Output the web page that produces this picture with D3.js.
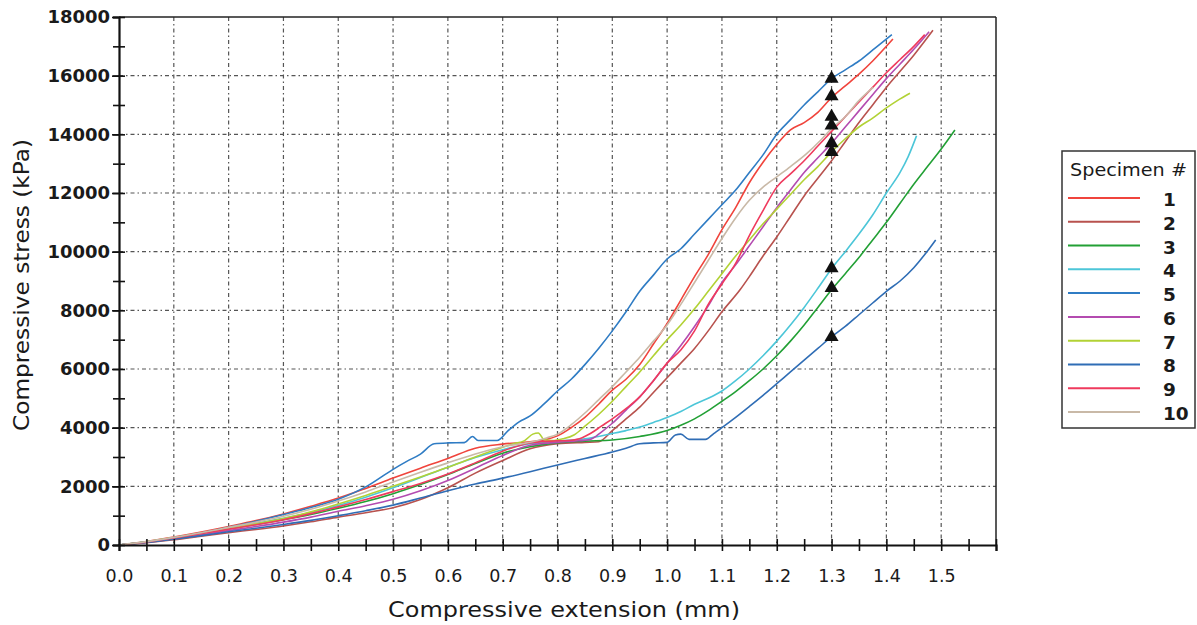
<!DOCTYPE html>
<html><head><meta charset="utf-8">
<script src="https://cdn.jsdelivr.net/npm/d3@7"></script>
<style>
html,body{margin:0;padding:0;background:#fff;}
svg{display:block;}
text{font-family:"DejaVu Sans",Verdana,sans-serif;fill:#1a1a1a;}
</style></head>
<body>
<svg id="chart" width="1197" height="625"></svg>
<script>
// ---------- data ----------
const specimenNames = ["1","2","3","4","5","6","7","8","9","10"];
const specimenColors = ["#f0443c","#b8524e","#22a035","#4cc6d8","#2f7cc4","#b44bb0","#b2d235","#2f6db5","#ef3a5d","#c9b9a7"];

const s1 = [[0,0],[0.05,120],[0.1,270],[0.15,440],[0.2,630],[0.25,830],[0.3,1060],[0.35,1320],[0.4,1600],[0.45,1930],[0.5,2280],[0.55,2620],[0.6,2950],[0.65,3300],[0.7,3440],[0.75,3520],[0.78,3600],[0.8,3720],[0.825,4000],[0.85,4350],[0.875,4800],[0.9,5280],[0.925,5650],[0.95,6150],[0.975,6850],[1.0,7550],[1.025,8350],[1.05,9150],[1.075,9900],[1.1,10750],[1.125,11500],[1.15,12350],[1.175,13050],[1.2,13650],[1.225,14150],[1.25,14400],[1.275,14750],[1.3,15250],[1.325,15650],[1.35,16050],[1.375,16500],[1.412,17250]];
const s2 = [[0,0],[0.05,80],[0.1,180],[0.15,300],[0.2,420],[0.25,530],[0.3,650],[0.35,790],[0.4,950],[0.45,1100],[0.5,1270],[0.55,1550],[0.6,1950],[0.65,2450],[0.7,2880],[0.75,3280],[0.8,3450],[0.85,3500],[0.875,3520],[0.9,3900],[0.925,4300],[0.95,4700],[0.975,5200],[1.0,5700],[1.025,6200],[1.05,6700],[1.075,7300],[1.1,7950],[1.133,8700],[1.15,9150],[1.175,9850],[1.2,10500],[1.225,11200],[1.25,11900],[1.275,12500],[1.3,13100],[1.325,13750],[1.35,14400],[1.375,15000],[1.4,15600],[1.425,16150],[1.45,16700],[1.485,17550]];
const s3 = [[0,0],[0.05,110],[0.1,240],[0.15,390],[0.2,550],[0.25,700],[0.3,860],[0.35,1040],[0.4,1250],[0.45,1480],[0.5,1750],[0.55,2060],[0.6,2400],[0.65,2780],[0.7,3130],[0.75,3350],[0.8,3480],[0.85,3540],[0.9,3580],[0.95,3700],[1.0,3900],[1.025,4080],[1.05,4300],[1.075,4580],[1.1,4900],[1.125,5230],[1.15,5600],[1.175,6000],[1.2,6450],[1.225,6950],[1.25,7500],[1.275,8100],[1.3,8700],[1.325,9250],[1.35,9800],[1.375,10400],[1.4,11000],[1.425,11650],[1.45,12300],[1.475,12900],[1.5,13500],[1.525,14150]];
const s4 = [[0,0],[0.05,110],[0.1,250],[0.15,410],[0.2,580],[0.25,740],[0.3,910],[0.35,1110],[0.4,1350],[0.45,1630],[0.5,1950],[0.55,2300],[0.6,2650],[0.65,2980],[0.7,3250],[0.75,3450],[0.8,3540],[0.85,3620],[0.9,3800],[0.925,3900],[0.95,4020],[0.975,4180],[1.0,4350],[1.025,4550],[1.05,4800],[1.075,5000],[1.1,5250],[1.125,5600],[1.15,6000],[1.175,6450],[1.2,6950],[1.225,7500],[1.25,8100],[1.275,8750],[1.3,9420],[1.325,10000],[1.35,10600],[1.375,11250],[1.4,12000],[1.425,12700],[1.44,13250],[1.455,13950]];
const s5 = [[0,0],[0.05,110],[0.1,250],[0.15,410],[0.2,600],[0.25,810],[0.3,1040],[0.35,1280],[0.4,1560],[0.45,1980],[0.5,2580],[0.525,2850],[0.55,3100],[0.575,3450],[0.6,3480],[0.63,3490],[0.645,3700],[0.655,3560],[0.69,3560],[0.71,3900],[0.73,4200],[0.75,4400],[0.775,4800],[0.8,5250],[0.825,5650],[0.85,6150],[0.875,6700],[0.9,7300],[0.925,7950],[0.95,8650],[0.975,9200],[1.0,9750],[1.025,10100],[1.05,10600],[1.075,11100],[1.1,11600],[1.125,12100],[1.15,12700],[1.175,13300],[1.2,14000],[1.225,14500],[1.25,15000],[1.275,15450],[1.3,15900],[1.325,16200],[1.35,16500],[1.38,16950],[1.41,17400]];
const s6 = [[0,0],[0.05,95],[0.1,215],[0.15,350],[0.2,490],[0.25,630],[0.3,780],[0.35,950],[0.4,1150],[0.45,1340],[0.5,1560],[0.55,1850],[0.6,2200],[0.65,2620],[0.7,3050],[0.725,3250],[0.75,3400],[0.8,3500],[0.83,3540],[0.86,3600],[0.88,3850],[0.9,4150],[0.925,4600],[0.95,5050],[0.975,5600],[1.0,6200],[1.025,6800],[1.05,7450],[1.075,8150],[1.1,8950],[1.125,9550],[1.15,10200],[1.175,10850],[1.2,11500],[1.225,12100],[1.25,12700],[1.275,13200],[1.3,13700],[1.325,14250],[1.35,14800],[1.375,15350],[1.4,15900],[1.425,16400],[1.45,16900],[1.478,17500]];
const s7 = [[0,0],[0.05,110],[0.1,250],[0.15,400],[0.2,560],[0.25,720],[0.3,900],[0.35,1130],[0.4,1400],[0.45,1690],[0.5,2000],[0.55,2320],[0.6,2650],[0.65,3000],[0.7,3330],[0.72,3450],[0.74,3560],[0.755,3780],[0.765,3820],[0.775,3600],[0.79,3560],[0.81,3620],[0.83,3750],[0.85,4050],[0.875,4450],[0.9,4900],[0.925,5400],[0.95,5900],[0.975,6450],[1.0,7000],[1.025,7500],[1.05,8050],[1.075,8650],[1.1,9250],[1.125,9850],[1.15,10400],[1.175,10950],[1.2,11450],[1.225,11950],[1.25,12450],[1.275,12900],[1.3,13400],[1.325,13850],[1.35,14250],[1.375,14550],[1.4,14900],[1.42,15150],[1.443,15400]];
const s8 = [[0,0],[0.05,90],[0.1,200],[0.15,320],[0.2,450],[0.25,570],[0.3,700],[0.35,840],[0.4,1000],[0.45,1170],[0.5,1360],[0.55,1600],[0.6,1850],[0.65,2080],[0.7,2280],[0.75,2500],[0.8,2730],[0.85,2950],[0.9,3170],[0.925,3300],[0.95,3450],[0.975,3480],[1.0,3500],[1.015,3750],[1.025,3780],[1.04,3600],[1.07,3600],[1.085,3800],[1.1,4000],[1.125,4350],[1.15,4720],[1.175,5100],[1.2,5500],[1.225,5900],[1.25,6300],[1.275,6700],[1.3,7100],[1.325,7450],[1.35,7850],[1.375,8250],[1.4,8650],[1.425,9000],[1.45,9450],[1.47,9900],[1.49,10400]];
const s9 = [[0,0],[0.05,105],[0.1,240],[0.15,390],[0.2,540],[0.25,690],[0.3,860],[0.35,1070],[0.4,1300],[0.45,1550],[0.5,1820],[0.55,2100],[0.6,2420],[0.65,2800],[0.7,3200],[0.75,3480],[0.8,3550],[0.82,3560],[0.84,3620],[0.86,3800],[0.88,4050],[0.9,4300],[0.925,4650],[0.95,5050],[0.975,5600],[1.0,6200],[1.025,6650],[1.05,7300],[1.075,8200],[1.1,8900],[1.125,9600],[1.15,10550],[1.175,11400],[1.2,12200],[1.225,12650],[1.25,13100],[1.275,13600],[1.3,14100],[1.325,14600],[1.35,15100],[1.375,15600],[1.4,16100],[1.425,16550],[1.45,17000],[1.47,17400]];
const s10 = [[0,0],[0.05,115],[0.1,260],[0.15,420],[0.2,600],[0.25,780],[0.3,980],[0.35,1220],[0.4,1500],[0.45,1810],[0.5,2150],[0.55,2480],[0.6,2800],[0.65,3100],[0.7,3350],[0.75,3500],[0.78,3650],[0.8,3780],[0.825,4100],[0.85,4500],[0.875,4950],[0.9,5400],[0.925,5900],[0.95,6400],[0.975,6950],[1.0,7500],[1.03,8350],[1.05,8950],[1.075,9700],[1.1,10450],[1.125,11150],[1.15,11750],[1.175,12200],[1.2,12550],[1.225,12900],[1.255,13350],[1.28,13800],[1.3,14200],[1.325,14600],[1.35,15150],[1.376,15600]];
const seriesValues = [s1,s2,s3,s4,s5,s6,s7,s8,s9,s10];

const markerX = 1.3;
const markerY = [15900,15300,14600,14300,13700,13400,9440,8760,7090];

const xMajorTicks = [0,0.1,0.2,0.3,0.4,0.5,0.6,0.7,0.8,0.9,1.0,1.1,1.2,1.3,1.4,1.5];
const xMinorTicks = d3.range(0,33).map(i=>i*0.05);
const yMajorTicks = [0,2000,4000,6000,8000,10000,12000,14000,16000,18000];
const yMinorTicks = d3.range(0,19).map(i=>i*1000);
const xTitle = "Compressive extension (mm)";
const yTitle = "Compressive stress (kPa)";
const legendTitle = "Specimen #";

// ---------- layout ----------
const svg = d3.select("#chart");
const L=119, R=996, T=17, B=545;
const x = d3.scaleLinear().domain([0,1.6]).range([L,R]);
const y = d3.scaleLinear().domain([0,18000]).range([B,T]);

// grid
const grid = svg.append("g");
grid.selectAll("line.vg").data(xMajorTicks.filter(v=>v>0)).enter().append("line")
  .attr("x1",d=>x(d)).attr("x2",d=>x(d)).attr("y1",T).attr("y2",B)
  .attr("stroke","#555").attr("stroke-width",1.2).attr("stroke-dasharray","4,3,1.5,3");
grid.selectAll("line.hg").data(yMajorTicks.filter(v=>v>0&&v<18000)).enter().append("line")
  .attr("x1",L).attr("x2",R).attr("y1",d=>y(d)).attr("y2",d=>y(d))
  .attr("stroke","#555").attr("stroke-width",1.2).attr("stroke-dasharray","4,3,1.5,3");

// frame top/right
svg.append("line").attr("x1",L).attr("x2",R).attr("y1",T).attr("y2",T).attr("stroke","#222").attr("stroke-width",1.5);
svg.append("line").attr("x1",R).attr("x2",R).attr("y1",T).attr("y2",B).attr("stroke","#222").attr("stroke-width",1.5);

// curves
const line = d3.line().x(d=>x(d[0])).y(d=>y(d[1])).curve(d3.curveMonotoneX);
svg.append("g").selectAll("path").data(seriesValues).enter().append("path")
  .attr("d",line).attr("fill","none")
  .attr("stroke",(d,i)=>specimenColors[i]).attr("stroke-width",1.6)
  .attr("stroke-linejoin","round");

// markers
svg.append("g").selectAll("path").data(markerY).enter().append("path")
  .attr("d",d3.symbol().type(d3.symbolTriangle).size(85))
  .attr("transform",d=>`translate(${x(markerX)},${y(d)})`)
  .attr("fill","#111");

// x axis
const xMinor = svg.append("g").attr("transform",`translate(0,${B})`)
  .call(d3.axisBottom(x).tickValues(xMinorTicks).tickSize(6).tickFormat(""));
xMinor.select(".domain").attr("stroke","#111").attr("stroke-width",2.2);
xMinor.selectAll(".tick line").attr("y1",-6).attr("y2",6).attr("stroke","#111").attr("stroke-width",1.6);
const xMaj = svg.append("g").attr("transform",`translate(0,${B})`)
  .call(d3.axisBottom(x).tickValues(xMajorTicks).tickSize(0).tickPadding(25).tickFormat(d3.format(".1f")));
xMaj.select(".domain").remove();
xMaj.selectAll("text").attr("font-size",17.5).attr("font-family","DejaVu Sans").attr("fill","#1a1a1a");

// y axis
const yMinor = svg.append("g").attr("transform",`translate(${L},0)`)
  .call(d3.axisLeft(y).tickValues(yMinorTicks).tickSize(6).tickFormat(""));
yMinor.select(".domain").attr("stroke","#111").attr("stroke-width",2.2);
yMinor.selectAll(".tick line").attr("x1",-6).attr("x2",6).attr("stroke","#111").attr("stroke-width",1.6);
const yMaj = svg.append("g").attr("transform",`translate(${L},0)`)
  .call(d3.axisLeft(y).tickValues(yMajorTicks).tickSize(7).tickPadding(2).tickFormat(d3.format("d")));
yMaj.select(".domain").remove();
yMaj.selectAll(".tick line").attr("stroke","#111").attr("stroke-width",1.6);
yMaj.selectAll("text").attr("font-size",18).attr("font-weight","bold").attr("font-family","DejaVu Sans").attr("fill","#1a1a1a");

// titles
svg.append("text").attr("x",564).attr("y",617).attr("text-anchor","middle")
  .attr("font-size",22).attr("textLength",352).attr("lengthAdjust","spacingAndGlyphs").text(xTitle);
svg.append("text").attr("transform","translate(29,285) rotate(-90)").attr("text-anchor","middle")
  .attr("font-size",22).attr("textLength",292).attr("lengthAdjust","spacingAndGlyphs").text(yTitle);

// legend
const lg = svg.append("g");
lg.append("rect").attr("x",1062).attr("y",151).attr("width",133).attr("height",277)
  .attr("fill","#fff").attr("stroke","#333").attr("stroke-width",1.5);
lg.append("text").attr("x",1070).attr("y",176).attr("font-size",17)
  .attr("textLength",117).attr("lengthAdjust","spacingAndGlyphs").text(legendTitle);
const ly = d3.scalePoint().domain(specimenNames).range([198,412]);
specimenNames.forEach((n,i)=>{
  lg.append("line").attr("x1",1068).attr("x2",1140).attr("y1",ly(n)).attr("y2",ly(n))
    .attr("stroke",specimenColors[i]).attr("stroke-width",2);
  lg.append("text").attr("x",1163).attr("y",ly(n)+8).attr("font-size",18.5).attr("font-weight","bold").text(n);
});
</script>
</body></html>
